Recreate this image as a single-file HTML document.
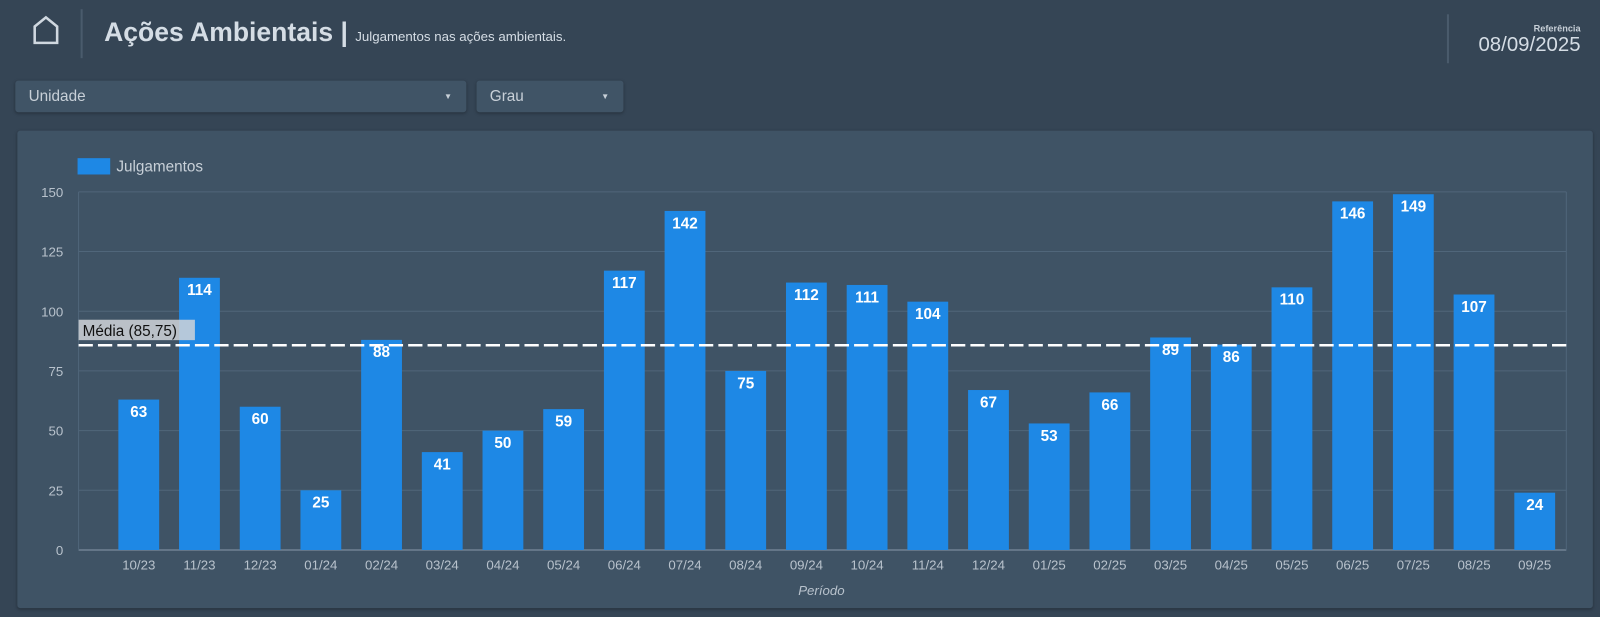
<!DOCTYPE html>
<html><head><meta charset="utf-8">
<style>
body{margin:0;width:1600px;height:617px;background:#354555;font-family:"Liberation Sans",sans-serif;overflow:hidden;position:relative}
#wrap{position:absolute;left:0;top:0;width:1568px;height:605px;transform:scale(1.0204);transform-origin:0 0}
.abs{position:absolute}
</style></head><body>
<div id="wrap">
<div class="abs" style="left:30px;top:14px;width:30px;height:32px">
<svg width="30" height="32"><path d="M4 28 V12 L15 3 L26 12 V28 Z" fill="none" stroke="#d0d8e0" stroke-width="2.5"/></svg></div>
<div class="abs" style="left:79px;top:9px;width:2px;height:48px;background:#4a5b6c"></div>
<div class="abs" style="left:102px;top:16px;color:#d5dde5;font-size:26px;font-weight:bold">Ações Ambientais <span>|</span> <span style="font-size:13px;font-weight:normal">Julgamentos nas ações ambientais.</span></div>
<div class="abs" style="left:1418px;top:14px;width:2px;height:48px;background:#4a5b6c"></div>
<div class="abs" style="right:19px;top:23px;color:#c8d0d8;font-size:9px;font-weight:bold">Referência</div>
<div class="abs" style="right:19px;top:33px;color:#d5dde5;font-size:20px">08/09/2025</div>
<div class="abs" style="left:15px;top:79px;width:442px;height:31px;background:#405466;border-radius:3px;box-shadow:0 1px 3px rgba(0,0,0,.3);color:#c8d0d8;font-size:15px;line-height:31px;padding-left:13px;box-sizing:border-box">Unidade<span style="position:absolute;right:14px;font-size:8px">▼</span></div>
<div class="abs" style="left:467px;top:79px;width:144px;height:31px;background:#405466;border-radius:3px;box-shadow:0 1px 3px rgba(0,0,0,.3);color:#c8d0d8;font-size:15px;line-height:31px;padding-left:13px;box-sizing:border-box">Grau<span style="position:absolute;right:14px;font-size:8px">▼</span></div>
<div class="abs" style="left:17px;top:128px;width:1544px;height:468px;background:#3f5365;border-radius:3px;box-shadow:0 1px 3px rgba(0,0,0,.3)"></div>
<svg class="abs" style="left:0;top:0" width="1568" height="605" id="chart"></svg>
</div>
<script>
const categories=["10/23","11/23","12/23","01/24","02/24","03/24","04/24","05/24","06/24","07/24","08/24","09/24","10/24","11/24","12/24","01/25","02/25","03/25","04/25","05/25","06/25","07/25","08/25","09/25"];
const values=[63,114,60,25,88,41,50,59,117,142,75,112,111,104,67,53,66,89,86,110,146,149,107,24];
const yTicks=[0,25,50,75,100,125,150];
const meanValue=85.75;
const meanLabel="Média (85,75)";
const svg=document.getElementById('chart');const NS="http://www.w3.org/2000/svg";
const y=v=>539-v*351/150;
const x=i=>136+i*59.48;
function mk(t,a,txt){const e=document.createElementNS(NS,t);for(const k in a)e.setAttribute(k,a[k]);if(txt!=null)e.textContent=txt;svg.appendChild(e);return e;}
yTicks.forEach(t=>{
 const l=mk('line',{x1:77,x2:1535,y1:y(t),y2:y(t),stroke:t==0?'#8a9aaa':'#50667a','stroke-width':1});
 
 
 const tx=mk('text',{x:62,y:y(t)+5,'text-anchor':'end',fill:'#b8c2cc','font-size':13,'font-family':'Liberation Sans'},t);
 
 
});
const ax=mk('line',{x1:77,x2:77,y1:188,y2:539,stroke:'#50667a'});


const rx=mk('line',{x1:1535,x2:1535,y1:188,y2:539,stroke:'#50667a'});


values.forEach((v,i)=>{
 const b=mk('rect',{x:x(i)-20,y:y(v),width:40,height:539-y(v),fill:'#1e88e5'});
 
 
 const t=mk('text',{x:x(i),y:y(v)+17,'text-anchor':'middle',fill:'#fff','font-size':15,'font-weight':'bold','font-family':'Liberation Sans'},v);
 
 
 const c=mk('text',{x:x(i),y:558,'text-anchor':'middle',fill:'#b8c2cc','font-size':13,'font-family':'Liberation Sans'},categories[i]);
 
 
});
const ml=mk('line',{x1:77,x2:1535,y1:y(meanValue),y2:y(meanValue),stroke:'#fff','stroke-width':2.5,'stroke-dasharray':'14 5'});


const mb=mk('rect',{x:77,y:y(meanValue)-25,width:114,height:20,fill:'#d0d4d8','fill-opacity':0.85});


const mt=mk('text',{x:81,y:y(meanValue)-9,fill:'#111','font-size':15,'font-family':'Liberation Sans'},meanLabel);


const xt=mk('text',{x:805,y:583,'text-anchor':'middle',fill:'#b8c2cc','font-size':13,'font-style':'italic','font-family':'Liberation Sans'},'Período');


const ls=mk('rect',{x:76,y:155,width:32,height:16,fill:'#1e88e5'});


const lt=mk('text',{x:114,y:168,fill:'#c8d0d8','font-size':15,'font-family':'Liberation Sans'},'Julgamentos');


</script>
</body></html>
